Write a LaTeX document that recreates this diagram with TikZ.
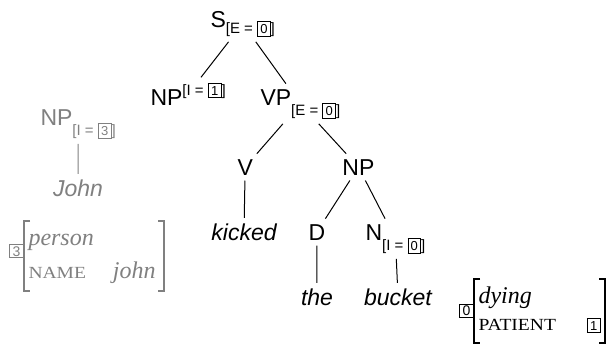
\documentclass[tikz,border=0pt]{standalone}
\usepackage{fontspec}
\setmainfont{Liberation Serif}
\setsansfont{Liberation Sans}
\newfontfamily\capsfont[FakeStretch=1.15]{Liberation Serif}

\colorlet{faded}{black!50}

% index boxes and [F = n] features
\newcommand{\ibox}[1]{{\setlength{\fboxsep}{1.2pt}\fbox{\sffamily\fontsize{6.5}{6.5}\selectfont #1}}}
\newcommand{\feat}[2]{{\sffamily\fontsize{7.5}{8}\selectfont[#1 = \ibox{#2}]}}
\newcommand{\featdn}[3][5pt]{\raisebox{-#1}{\feat{#2}{#3}}}
\newcommand{\featup}[2]{\raisebox{5pt}{\feat{#1}{#2}}}
\newcommand{\attr}[1]{{\capsfont\fontsize{8.5}{9}\selectfont #1}}

\tikzset{
  cat/.style={font=\sffamily\fontsize{11.5}{13}\selectfont, inner sep=2.5pt, anchor=base west},
  word/.style={font=\sffamily\itshape\fontsize{11.5}{13}\selectfont, inner sep=2.5pt, anchor=base},
  avm/.style={font=\rmfamily\fontsize{12}{14}\selectfont, inner sep=2pt, anchor=base west},
  bracket/.style={line width=0.7pt},
  tagbox/.style={draw, font=\sffamily\fontsize{7}{7}\selectfont, inner sep=0pt,
    minimum width=7pt, minimum height=6.5pt, anchor=east},
}

\begin{document}
\begin{tikzpicture}[x=0.5pt,y=-0.5pt, line width=0.5pt]
  \useasboundingbox (0,0) rectangle (612,345);

  % the tree
  \node[cat] (S)   at (205,27)  {S\featdn[3pt]{E}{0}};
  \node[cat] (NPs) at (145,105) {NP\featup{I}{1}};
  \node[cat] (VP)  at (255,105) {VP\featdn{E}{0}};
  \node[cat] (V)   at (232,175) {V};
  \node[cat] (NPo) at (337,175) {NP};
  \node[cat] (D)   at (303,240) {D};
  \node[cat] (N)   at (360,240) {N\featdn{I}{0}};

  \node[word] (kicked) at (244,240) {kicked};
  \node[word] (the)    at (317,305) {the};
  \node[word] (bucket) at (398,305) {bucket};

  \draw (S) -- (NPs);
  \draw (S) -- (VP);
  \draw (VP) -- (V);
  \draw (VP) -- (NPo);
  \draw (NPo) -- (D);
  \draw (NPo) -- (N);
  \draw (V) -- (kicked);
  \draw (D) -- (the);
  \draw (N) -- (bucket);

  % the subject, greyed out
  \node[cat, text=faded] (NPj) at (35,125) {NP\featdn{I}{3}};
  \node[word, text=faded] (John) at (78,196) {John};
  \draw[faded] (NPj) -- (John);

  \node[avm, text=faded] (pers) at (24,245)
    {\begin{tabular}[t]{@{}l@{\hspace{9.5pt}}l@{\hspace{2pt}}}
      \itshape person & \\[2.5pt]
      \attr{NAME} & \itshape john
    \end{tabular}};
  \draw[bracket, faded] ([xshift=3pt]pers.north west) -| (pers.south west) -- ++(6,0);
  \draw[bracket, faded] ([xshift=-3pt]pers.north east) -| (pers.south east) -- ++(-6,0);
  \node[tagbox, faded] (t3) at ([yshift=2.25pt]pers.west) {3};

  % meaning of the idiom
  \node[avm] (dying) at (474,303)
    {\begin{tabular}[t]{@{}l@{\hspace{15.5pt}}l@{}}
      \itshape dying & \\[-0.5pt]
      \attr{PATIENT} & \ibox{1}
    \end{tabular}};
  \draw[bracket] ([xshift=3pt]dying.north west) -| (dying.south west) -- ++(6,0);
  \draw[bracket] ([xshift=-3pt]dying.north east) -| (dying.south east) -- ++(-6,0);
  \node[tagbox] (t0) at (dying.west) {0};

\end{tikzpicture}
\end{document}
